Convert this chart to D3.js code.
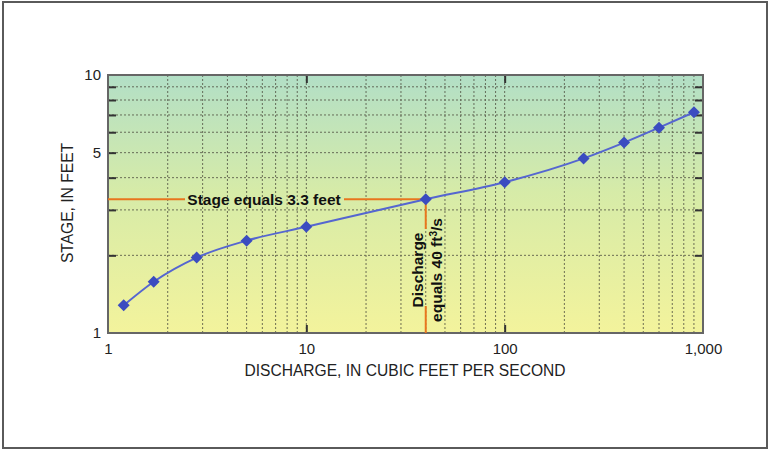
<!DOCTYPE html>
<html>
<head>
<meta charset="utf-8">
<script src="https://cdn.jsdelivr.net/npm/d3@7"></script>
<style>
  body { margin: 0; background: #fff; }
  svg { display: block; font-family: "Liberation Sans", Arial, sans-serif; }
  .axis path { display: none; }
  .axis text { font-size: 15px; fill: #222; }
  .note { font-size: 15.5px; font-weight: bold; fill: #111; }
</style>
</head>
<body>
<div id="chart"></div>
<script>
// rating curve values
const discharge = [1.2, 1.7, 2.8, 5, 10, 40, 100, 250, 400, 600, 900];
const stage = [1.28, 1.58, 1.96, 2.28, 2.58, 3.3, 3.84, 4.75, 5.47, 6.25, 7.17];
const xTicks = [1, 10, 100, 1000];
const yTicks = [1, 5, 10];
const yMinor = [2, 3, 4, 5, 6, 7, 8, 9];
const xMinor = [2, 3, 4, 5, 6, 7, 8, 9, 10, 20, 30, 40, 50, 60, 70, 80, 90, 100, 200, 300, 400, 500, 600, 700, 800, 900];
const markStage = 3.3;
const markDischarge = 40;

const width = 770;
const height = 450;
const plot = { left: 108, right: 703, top: 75, bottom: 333 };

const svg = d3.select('#chart').append('svg')
    .attr('width', width)
    .attr('height', height);

// outer frame
svg.append('rect')
    .attr('x', 3).attr('y', 2)
    .attr('width', 764).attr('height', 446)
    .attr('fill', '#fff')
    .attr('stroke', '#5a5a5a')
    .attr('stroke-width', 2);

const grad = svg.append('defs').append('linearGradient')
    .attr('id', 'bg').attr('x1', 0).attr('y1', 0).attr('x2', 0).attr('y2', 1);
grad.append('stop').attr('offset', '0%').attr('stop-color', '#b2dfc6');
grad.append('stop').attr('offset', '45%').attr('stop-color', '#d6eba8');
grad.append('stop').attr('offset', '100%').attr('stop-color', '#f3f39c');

const x = d3.scaleLog().domain([1, 1000]).range([plot.left, plot.right]);
const y = d3.scaleLog().domain([1, 10]).range([plot.bottom, plot.top]);

svg.append('rect')
    .attr('x', plot.left).attr('y', plot.top)
    .attr('width', plot.right - plot.left)
    .attr('height', plot.bottom - plot.top)
    .attr('fill', 'url(#bg)');

// dotted grid
const grid = svg.append('g')
    .attr('stroke', '#4f4f40')
    .attr('stroke-width', 1)
    .attr('stroke-dasharray', '2,2')
    .attr('opacity', 0.8);

grid.selectAll('line.v')
    .data(xMinor)
    .join('line')
    .attr('class', 'v')
    .attr('x1', d => x(d)).attr('x2', d => x(d))
    .attr('y1', plot.top).attr('y2', plot.bottom);

grid.selectAll('line.h')
    .data(yMinor)
    .join('line')
    .attr('class', 'h')
    .attr('x1', plot.left).attr('x2', plot.right)
    .attr('y1', d => y(d)).attr('y2', d => y(d));

// inward tick marks
const tickStyle = g => g.selectAll('line').attr('stroke', '#333').attr('stroke-width', 2);

svg.append('g').attr('class', 'axis')
    .attr('transform', `translate(${plot.left},0)`)
    .call(d3.axisLeft(y).tickValues(yMinor).tickSize(-8).tickFormat(''))
    .call(tickStyle);
svg.append('g').attr('class', 'axis')
    .attr('transform', `translate(${plot.right},0)`)
    .call(d3.axisRight(y).tickValues(yMinor).tickSize(-8).tickFormat(''))
    .call(tickStyle);
svg.append('g').attr('class', 'axis')
    .attr('transform', `translate(0,${plot.bottom})`)
    .call(d3.axisBottom(x).tickValues([10, 100]).tickSize(-8).tickFormat(''))
    .call(tickStyle);
svg.append('g').attr('class', 'axis')
    .attr('transform', `translate(0,${plot.top})`)
    .call(d3.axisTop(x).tickValues([10, 100]).tickSize(-8).tickFormat(''))
    .call(tickStyle);

// tick labels
svg.append('g').attr('class', 'axis')
    .attr('transform', `translate(${plot.left},0)`)
    .call(d3.axisLeft(y).tickValues(yTicks).tickSize(0).tickPadding(7).tickFormat(d3.format('d')));
svg.append('g').attr('class', 'axis')
    .attr('transform', `translate(0,${plot.bottom})`)
    .call(d3.axisBottom(x).tickValues(xTicks).tickSize(0).tickPadding(10).tickFormat(d3.format(',')));

// plot frame
svg.append('rect')
    .attr('x', plot.left).attr('y', plot.top)
    .attr('width', plot.right - plot.left)
    .attr('height', plot.bottom - plot.top)
    .attr('fill', 'none')
    .attr('stroke', '#666')
    .attr('stroke-width', 2);

// axis titles
svg.append('text')
    .attr('x', 405).attr('y', 376)
    .attr('text-anchor', 'middle')
    .attr('font-size', 15.6)
    .attr('fill', '#222')
    .text('DISCHARGE, IN CUBIC FEET PER SECOND');

svg.append('text')
    .attr('transform', 'translate(73,203) rotate(-90)')
    .attr('text-anchor', 'middle')
    .attr('font-size', 15.6)
    .attr('fill', '#222')
    .text('STAGE, IN FEET');

// annotation lines
const orange = '#e8761e';
const sy = y(markStage);
const sx = x(markDischarge);
svg.append('line')
    .attr('x1', plot.left).attr('x2', 185)
    .attr('y1', sy).attr('y2', sy)
    .attr('stroke', orange).attr('stroke-width', 2);
svg.append('line')
    .attr('x1', 344).attr('x2', sx)
    .attr('y1', sy).attr('y2', sy)
    .attr('stroke', orange).attr('stroke-width', 2);
svg.append('text')
    .attr('class', 'note')
    .attr('x', 264).attr('y', sy + 5.5)
    .attr('text-anchor', 'middle')
    .text('Stage equals 3.3 feet');

svg.append('line')
    .attr('x1', sx).attr('x2', sx)
    .attr('y1', sy).attr('y2', 229)
    .attr('stroke', orange).attr('stroke-width', 2);
svg.append('line')
    .attr('x1', sx).attr('x2', sx)
    .attr('y1', 306).attr('y2', plot.bottom)
    .attr('stroke', orange).attr('stroke-width', 2);

const vnote = svg.append('text')
    .attr('class', 'note')
    .attr('transform', `translate(${sx},270) rotate(-90)`)
    .attr('text-anchor', 'middle');
vnote.append('tspan').attr('x', 0).attr('y', -3).text('Discharge');
const t2 = vnote.append('tspan').attr('x', 0).attr('y', 16).text('equals 40 ft');
t2.append('tspan').attr('font-size', 10).attr('dy', -5).text('3');
t2.append('tspan').attr('dy', 5).text('/s');

// rating curve
const pts = discharge.map((d, i) => [x(d), y(stage[i])]);
svg.append('path')
    .attr('d', d3.line().curve(d3.curveMonotoneX)(pts))
    .attr('fill', 'none')
    .attr('stroke', '#5566d0')
    .attr('stroke-width', 2);

svg.append('g')
    .selectAll('path')
    .data(pts)
    .join('path')
    .attr('transform', d => `translate(${d[0]},${d[1]}) rotate(45)`)
    .attr('d', d3.symbol(d3.symbolSquare, 72))
    .attr('fill', '#3b4cc0');
</script>
</body>
</html>
